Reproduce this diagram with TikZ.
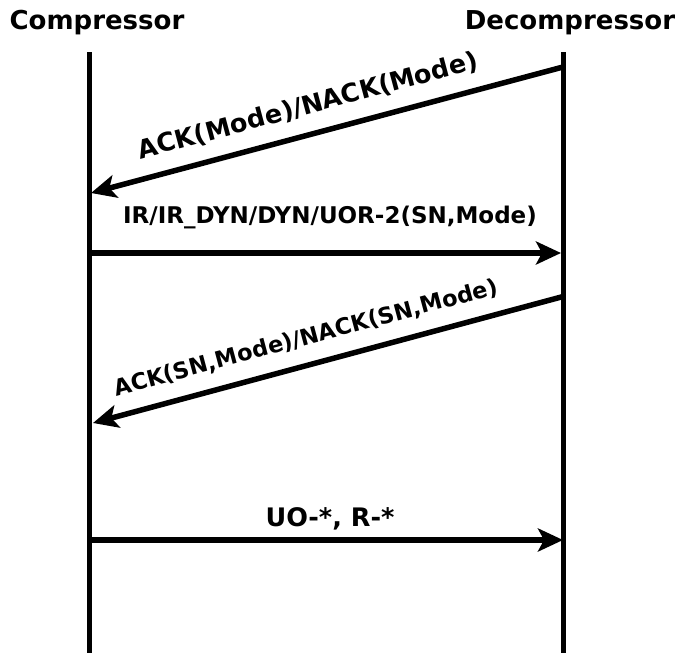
\documentclass[tikz,border=0pt]{standalone}
\usepackage{fontspec}
\setmainfont{DejaVu Sans}
\usetikzlibrary{arrows.meta}
\begin{document}
\begin{tikzpicture}[x=1pt,y=-1pt,
  lifeline/.style={line width=5pt},
  msg/.style={line width=5.5pt,-{Stealth[length=25pt,width=23pt,inset=6pt]}},
  title/.style={font=\bfseries\fontsize{26}{31}\selectfont,inner sep=0pt},
  lbl/.style={font=\bfseries\fontsize{#1}{#1}\selectfont,inner sep=0pt},
  lbl/.default=23]
\useasboundingbox (0,0) rectangle (677,653);

% party names
\node[title] (comp) at (97,23) {Compressor};
\node[title] (decomp) at (570,23) {Decompressor};

% lifelines
\coordinate (ctop) at (89,52);
\coordinate (cbot) at (89,653);
\coordinate (dtop) at (563,52);
\coordinate (dbot) at (563,653);
\draw[lifeline] (ctop) -- (cbot);
\draw[lifeline] (dtop) -- (dbot);

% message end points on the lifelines
\coordinate (d1) at (563,67);
\coordinate (c1) at (91,193);
\coordinate (c2) at (89,253);
\coordinate (d2) at (561,253);
\coordinate (d3) at (565,296);
\coordinate (c3) at (93,423);
\coordinate (c4) at (91,540);
\coordinate (d4) at (563,540);

% messages
\draw[msg] (d1) -- (c1);
\node[lbl=25.5,rotate=15] (l1) at (308,106) {ACK(Mode)/NACK(Mode)};

\draw[msg] (c2) -- (d2);
\node[lbl=23] (l2) at (330,217) {IR/IR\_DYN/DYN/UOR-2(SN,Mode)};

\draw[msg] (d3) -- (c3);
\node[lbl=22.5,rotate=15] (l3) at (306,338) {ACK(SN,Mode)/NACK(SN,Mode)};

\draw[msg] (c4) -- (d4);
\node[lbl=25.5] (l4) at (330,519) {UO-*, R-*};
\end{tikzpicture}
\end{document}
